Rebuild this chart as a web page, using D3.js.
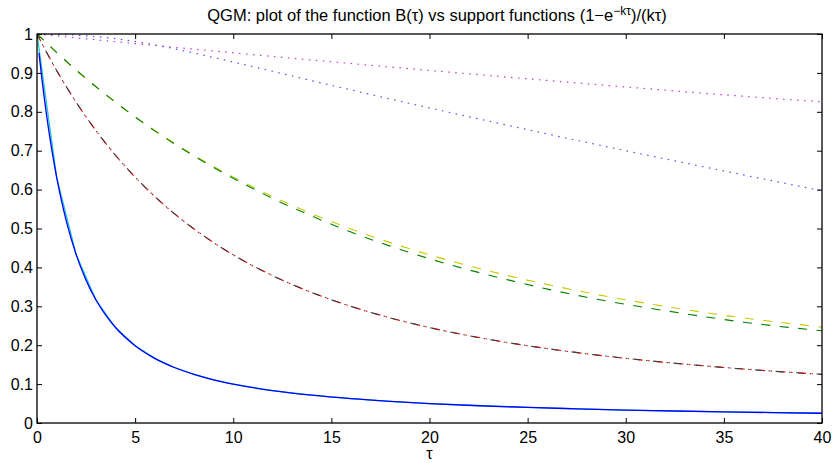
<!DOCTYPE html>
<html>
<head>
<meta charset="utf-8">
<script src="https://cdn.jsdelivr.net/npm/d3@7"></script>
<style>
  html, body { margin: 0; padding: 0; background: #fff; }
  svg { display: block; }
  text { font-family: "Liberation Sans", Arial, Helvetica, sans-serif; fill: #000; }
</style>
</head>
<body>
<svg id="chart" width="832" height="463"></svg>
<script>
// ---------------- data ----------------
const xTicks = [0, 5, 10, 15, 20, 25, 30, 35, 40];
const yTicks = [0, 0.1, 0.2, 0.3, 0.4, 0.5, 0.6, 0.7, 0.8, 0.9, 1];

// B(tau), solid blue (fine sampling, starts at tau = 0.1)
const tauFine = [0.1, 0.25, 0.5, 0.75, 1, 1.25, 1.5, 2, 2.5, 3, 3.5, 4, 5, 6, 7, 8, 9, 10, 12, 14, 16, 18, 20, 22.5, 25, 27.5, 30, 32.5, 35, 37.5, 40];
const blueB = [0.9516, 0.8848, 0.7869, 0.7035, 0.6321, 0.5708, 0.5179, 0.4323, 0.3672, 0.3167, 0.2771, 0.2454, 0.1987, 0.1663, 0.1427, 0.1250, 0.1111, 0.1000, 0.0833, 0.0714, 0.0625, 0.0556, 0.0500, 0.0444, 0.0400, 0.0364, 0.0333, 0.0308, 0.0286, 0.0267, 0.0250];

// support function, solid cyan (coarse sampling)
const tauCoarse = [0, 1, 2, 3, 4, 5, 6, 7, 8, 9, 10, 12, 14, 16, 18, 20, 25, 30, 35, 40];
const cyanS = [1, 0.6321, 0.4323, 0.3167, 0.2454, 0.1987, 0.1663, 0.1427, 0.1250, 0.1111, 0.1000, 0.0833, 0.0714, 0.0625, 0.0556, 0.0500, 0.0400, 0.0333, 0.0286, 0.0250];

// dash-dot pair (red / dark grey)
const tauMid = [0, 1, 2, 3, 4, 5, 6, 7, 8, 9, 10, 12, 14, 16, 18, 20, 22, 24, 26, 28, 30, 32, 34, 36, 38, 40];
const redS = [1, 0.9063, 0.8242, 0.7520, 0.6883, 0.6321, 0.5823, 0.5381, 0.4988, 0.4637, 0.4323, 0.3789, 0.3354, 0.2998, 0.2702, 0.2454, 0.2245, 0.2066, 0.1913, 0.1779, 0.1663, 0.1560, 0.1469, 0.1388, 0.1315, 0.1250];
const darkB = [1, 0.9063, 0.8242, 0.7520, 0.6883, 0.6321, 0.5823, 0.5381, 0.4988, 0.4637, 0.4323, 0.3789, 0.3354, 0.2998, 0.2702, 0.2454, 0.2245, 0.2066, 0.1913, 0.1779, 0.1663, 0.1560, 0.1469, 0.1388, 0.1315, 0.1250];

// dashed pair (yellow / green)
const tauDash = [0, 2, 4, 6, 8, 10, 12, 14, 16, 18, 20, 24, 28, 32, 36, 40];
const yellowS = [1, 0.9063, 0.8242, 0.7520, 0.6883, 0.6321, 0.5823, 0.5381, 0.4988, 0.4637, 0.4323, 0.3789, 0.3354, 0.2998, 0.2702, 0.2465];
const greenB = [1, 0.9073, 0.8247, 0.7510, 0.6863, 0.6291, 0.5773, 0.5321, 0.4908, 0.4547, 0.4223, 0.3679, 0.3234, 0.2888, 0.2592, 0.2370];

// dotted pair (magenta / violet)
const tauDot = [0, 5, 10, 15, 20, 25, 30, 35, 40];
const magentaS = [1, 0.9754, 0.9516, 0.9286, 0.9063, 0.8848, 0.8639, 0.8437, 0.8255];
const tauDotB = [0, 2, 4, 6, 8, 10, 15, 20, 25, 30, 35, 40];
const violetB = [1, 0.997, 0.988, 0.972, 0.951, 0.928, 0.868, 0.810, 0.754, 0.700, 0.648, 0.597];

// ---------------- drawing ----------------
const FONT = '"Liberation Sans", Arial, Helvetica, sans-serif';
const svg = d3.select("#chart");
const L = 37, R = 822, T = 34, B = 423;
const x = d3.scaleLinear().domain([0, 40]).range([L, R]);
const y = d3.scaleLinear().domain([0, 1]).range([B, T]);

const series = [
  { t: tauDot, v: magentaS, color: "#cc33cc", dash: "1.5,5.5", w: 1.2, curve: d3.curveMonotoneX },
  { t: tauDotB, v: violetB, color: "#5050f0", dash: "1.5,5.5", w: 1.2, curve: d3.curveMonotoneX },
  { t: tauDash, v: yellowS, color: "#c8c800", dash: "9,9.5", w: 1.1, curve: d3.curveMonotoneX },
  { t: tauDash, v: greenB, color: "#008000", dash: "9,9.5", w: 1.1, curve: d3.curveMonotoneX },
  { t: tauMid, v: redS, color: "#ff0000", dash: "8,5.5,1.5,5.5", w: 1.1, curve: d3.curveMonotoneX },
  { t: tauMid, v: darkB, color: "#404040", dash: "8,5.5,1.5,5.5", w: 1.1, curve: d3.curveMonotoneX, offset: 2 },
  { t: tauCoarse, v: cyanS, color: "#20c8c8", dash: null, w: 1.3, curve: d3.curveLinear },
  { t: tauFine, v: blueB, color: "#0000ff", dash: null, w: 1.3, curve: d3.curveMonotoneX }
];

const plot = svg.append("g");
plot.append("clipPath").attr("id", "clip").append("rect")
  .attr("x", L).attr("y", T - 1).attr("width", R - L).attr("height", B - T + 1);

const lines = plot.append("g").attr("clip-path", "url(#clip)");
series.forEach(s => {
  const pts = s.t.map((t, i) => [t, s.v[i]]);
  const gen = d3.line().x(d => x(d[0])).y(d => y(d[1])).curve(s.curve);
  const p = lines.append("path")
    .attr("d", gen(pts))
    .attr("fill", "none")
    .attr("stroke", s.color)
    .attr("stroke-width", s.w);
  if (s.dash) p.attr("stroke-dasharray", s.dash);
  if (s.offset) p.attr("stroke-dashoffset", s.offset);
});

// axes (MATLAB style: ticks inside, box)
const tickLen = 5;
const axBottom = d3.axisBottom(x).tickValues(xTicks).tickSize(-tickLen).tickPadding(9).tickFormat(d3.format("d"));
const axTop = d3.axisTop(x).tickValues(xTicks).tickSize(-tickLen).tickFormat("");
const axLeft = d3.axisLeft(y).tickValues(yTicks).tickSize(-tickLen).tickPadding(4).tickFormat(d => d === 0 || d === 1 ? String(d) : d3.format(".1f")(d));
const axRight = d3.axisRight(y).tickValues(yTicks).tickSize(-tickLen).tickFormat("");

function style(g) {
  g.select(".domain").remove();
  g.selectAll(".tick line").attr("stroke", "#000").attr("stroke-width", 1);
  g.selectAll(".tick text").attr("font-size", 16).attr("fill", "#000")
    .style("font-family", FONT);
}
svg.append("g").attr("transform", `translate(0,${B})`).call(axBottom).call(style);
svg.append("g").attr("transform", `translate(0,${T})`).call(axTop).call(style);
svg.append("g").attr("transform", `translate(${L},0)`).call(axLeft).call(style);
svg.append("g").attr("transform", `translate(${R},0)`).call(axRight).call(style);

svg.append("rect").attr("x", L).attr("y", T).attr("width", R - L).attr("height", B - T)
  .attr("fill", "none").attr("stroke", "#000").attr("stroke-width", 1.3);

// x label
svg.append("text").attr("x", (L + R) / 2).attr("y", 459).attr("text-anchor", "middle")
  .attr("font-size", 16).text("τ");

// title
const title = svg.append("text").attr("x", 437).attr("y", 20.5).attr("text-anchor", "middle").attr("font-size", 16.5);
title.append("tspan").text("QGM: plot of the function B(τ) vs support functions (1−e");
title.append("tspan").attr("font-size", 12).attr("dy", -6).text("−kτ");
title.append("tspan").attr("dy", 6).text(")/(kτ)");
</script>
</body>
</html>
